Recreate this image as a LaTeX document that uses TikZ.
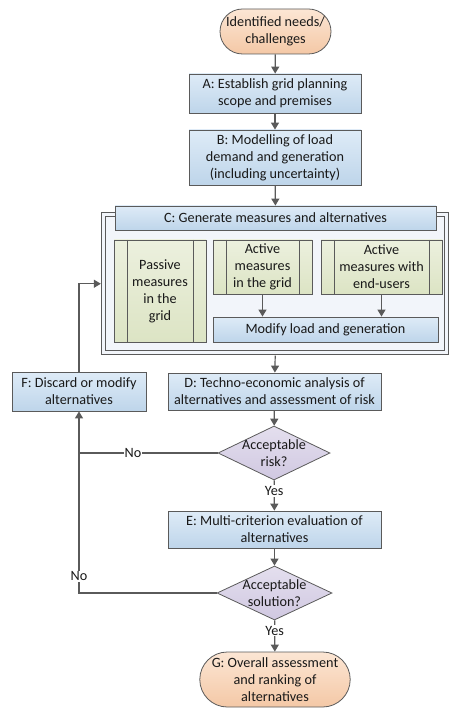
\documentclass[tikz,border=0pt]{standalone}
\usepackage{fontspec}
\setmainfont{Carlito}
\usepackage{tikz}
\usetikzlibrary{shapes.geometric, shapes.misc, arrows.meta, positioning, calc}
\definecolor{linegray}{RGB}{90, 90, 90}
\definecolor{boxtop}{RGB}{222, 235, 247}
\definecolor{boxbottom}{RGB}{190, 213, 234}
\definecolor{termtop}{RGB}{252, 230, 212}
\definecolor{termbottom}{RGB}{244, 200, 166}
\definecolor{decitop}{RGB}{228, 223, 238}
\definecolor{decibottom}{RGB}{208, 200, 225}
\definecolor{measuretop}{RGB}{236, 240, 222}
\definecolor{measurebottom}{RGB}{220, 228, 196}
\definecolor{framefill}{RGB}{242, 245, 250}

\begin{document}
\begin{tikzpicture}[
    x=1pt, y=-1pt,
    every node/.style={font=\fontsize{14.2}{17}\selectfont, text=black!90},
    box/.style={draw=linegray, thick, top color=boxtop, bottom color=boxbottom, align=center, inner sep=1pt},
    term/.style={rounded rectangle, draw=linegray, thick, top color=termtop, bottom color=termbottom, align=center, inner sep=1pt},
    decision/.style={diamond, draw=linegray, thick, top color=decitop, bottom color=decibottom, inner sep=0pt},
    measure/.style={draw=linegray, thick, top color=measuretop, bottom color=measurebottom, align=center, inner sep=1pt,
        path picture={
            \draw[linegray, thick] ([xshift=13pt]path picture bounding box.north west) -- ([xshift=13pt]path picture bounding box.south west);
            \draw[linegray, thick] ([xshift=-13pt]path picture bounding box.north east) -- ([xshift=-13pt]path picture bounding box.south east);
        }},
    group/.style={draw=linegray, line width=0.8pt, double=framefill, double distance=3pt, fill=framefill},
    arrow/.style={-{Triangle[width=8pt, length=7pt]}, draw=linegray, line width=1.2pt},
    line/.style={draw=linegray, line width=1.2pt},
    answer/.style={fill=white, inner sep=1pt}
]
    \useasboundingbox (0,0) rectangle (450,708);

    % Start
    \node[term, minimum width=113pt, minimum height=45pt] (needs) at (275.5,31.5) {Identified needs/\\challenges};

    % A and B
    \node[box, minimum width=172pt, minimum height=39pt] (scope) at (275,93.5) {A: Establish grid planning\\scope and premises};
    \node[box, minimum width=172pt, minimum height=55pt] (model) at (275,157.5) {B: Modelling of load\\demand and generation\\(including uncertainty)};

    % C: group of measures
    \node[group, minimum width=343pt, minimum height=138pt] (frame) at (275.25,283.75) {};
    \node[box, minimum width=321pt, minimum height=24pt] (generate) at (275.5,218) {C: Generate measures and alternatives};
    \node[measure, minimum width=92pt, minimum height=102pt] (passive) at (160,291) {Passive\\measures\\in the\\grid};
    \node[measure, minimum width=99pt, minimum height=54pt] (actgrid) at (262.5,267) {Active\\measures\\in the grid};
    \node[measure, minimum width=121pt, minimum height=54pt] (actusers) at (381.5,267) {Active\\measures with\\end-users};
    \node[box, minimum width=225pt, minimum height=25pt] (modify) at (325.5,329.5) {Modify load and generation};

    % D, E, F
    \node[box, minimum width=213pt, minimum height=37pt] (analysis) at (274.5,391.5) {D: Techno-economic analysis of\\alternatives and assessment of risk};
    \node[box, minimum width=134pt, minimum height=39pt] (discard) at (79,391.5) {F: Discard or modify\\alternatives};
    \node[box, minimum width=213pt, minimum height=37pt] (evaluate) at (274.5,529.5) {E: Multi-criterion evaluation of\\alternatives};

    % Decisions
    \node[decision, minimum width=112pt, minimum height=54pt, label={[align=center]center:Acceptable\\risk?}] (risk) at (274,453) {};
    \node[decision, minimum width=115pt, minimum height=54pt, label={[align=center]center:Acceptable\\solution?}] (solution) at (274.5,593) {};

    % End
    \node[term, minimum width=150pt, minimum height=55pt] (ranking) at (275,679.5) {G: Overall assessment\\and ranking of\\alternatives};

    % Arrows
    \draw[arrow] (needs) -- (scope);
    \draw[arrow] (scope) -- (model);
    \draw[arrow] (model) -- (generate);
    \draw[arrow] (actgrid) -- (actgrid |- modify.north);
    \draw[arrow] (actusers) -- (actusers |- modify.north);
    \draw[arrow, shorten <=2.5pt] (frame.south) -- (analysis);
    \draw[arrow] (analysis) -- (risk);
    \draw[arrow] (risk) -- node[answer, pos=0.35] {Yes} (evaluate);
    \draw[arrow] (evaluate) -- (solution);
    \draw[arrow] (solution) -- node[answer, pos=0.33] {Yes} (ranking);

    % Loop back
    \coordinate (join) at (discard.south |- risk.west);
    \draw[arrow] (risk.west) -- node[answer, pos=0.61] {No} (join) -- (discard.south);
    \draw[line] (solution.west) -| node[answer, pos=0.56] {No} (join);
    \draw[arrow, shorten >=2.5pt] (discard.north) |- (frame.west);
\end{tikzpicture}
\end{document}
